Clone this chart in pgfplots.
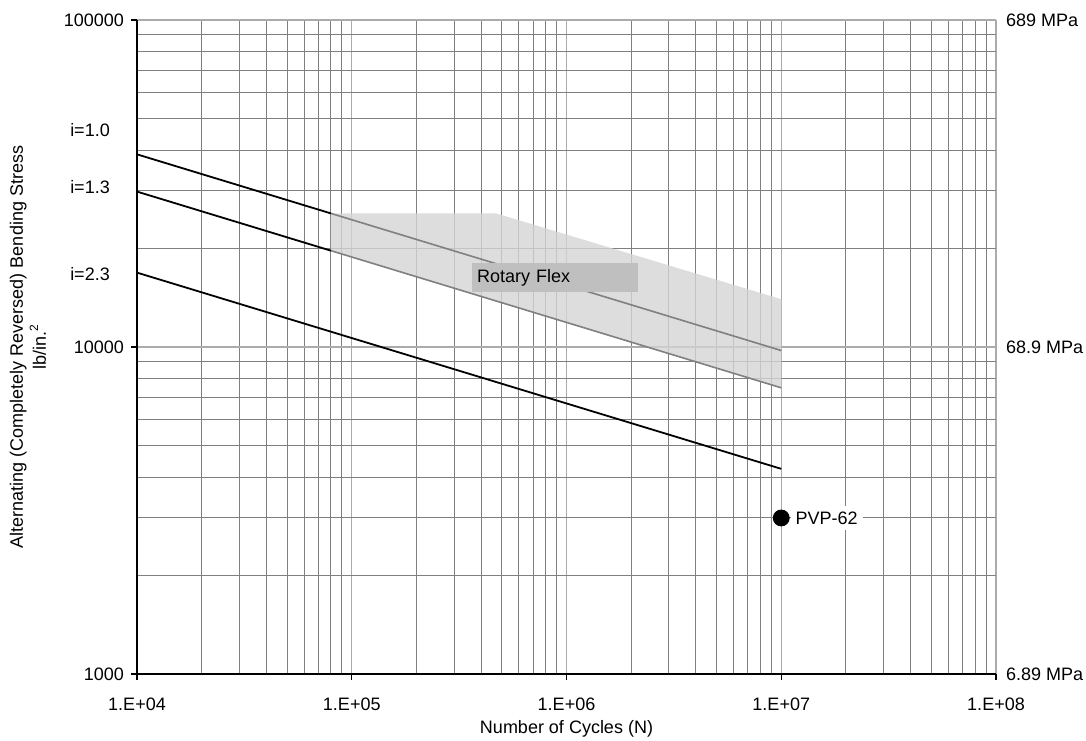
\documentclass[border=0pt]{standalone}
\usepackage{fontspec}
\setmainfont{Liberation Sans}
\usepackage{pgfplots}
\pgfplotsset{compat=1.18}
\begin{document}
\begin{tikzpicture}
\begin{axis}[
  scale only axis, width=429.5pt, height=327pt,
  xmode=log, ymode=log,
  xmin=1e4, xmax=1e8, ymin=1000, ymax=100000,
  xtick={1e4,1e5,1e6,1e7,1e8},
  xticklabels={1.E+04,1.E+05,1.E+06,1.E+07,1.E+08},
  ytick={1000,10000,100000},
  yticklabels={1000,10000,100000},
  minor xtick={2e4,3e4,4e4,5e4,6e4,7e4,8e4,9e4,2e5,3e5,4e5,5e5,6e5,7e5,8e5,9e5,2e6,3e6,4e6,5e6,6e6,7e6,8e6,9e6,2e7,3e7,4e7,5e7,6e7,7e7,8e7,9e7},
  minor ytick={2000,3000,4000,5000,6000,7000,8000,9000,20000,30000,40000,50000,60000,70000,80000,90000},
  grid=both,
  major grid style={color=black!33, line width=0.6pt},
  minor grid style={color=black!50, line width=0.5pt},
  axis x line*=bottom, axis y line*=left,
  axis line style={black, line width=0.9pt, -},
  tick align=outside, major tick length=3pt, minor tick length=0pt,
  tick style={black, line width=0.6pt},
  /pgf/number format/assume math mode=true,
  tick label style={font=\fontsize{9}{10}\selectfont},
  xticklabel style={yshift=-5.5pt},
  xlabel={Number of Cycles (N)},
  xlabel style={font=\fontsize{9}{10}\selectfont, at={(rel axis cs:0.5,0)}, anchor=center, yshift=-27.5pt},
  ylabel={Alternating (Completely Reversed) Bending Stress\\lb/in.\textsuperscript{2}},
  ylabel style={font=\fontsize{9}{11.5}\selectfont, align=center, at={(rel axis cs:-0.127,0.5)}, anchor=center},
  clip=false,
]
% shaded Rotary Flex band
\addplot[draw=none, fill=black!17, fill opacity=0.8] coordinates {
  (8e4,25614) (4.7e5,25614) (1e7,14000) (1e7,7503) (8e4,19703)} -- cycle;
% design lines (black part)
\addplot[black, line width=0.9pt] coordinates {(1e4,38830) (8e4,25614)};
\addplot[black, line width=0.9pt] coordinates {(1e4,29870) (8e4,19703)};
\addplot[black, line width=0.9pt] coordinates {(1e4,16883) (1e7,4240)};
% lines inside band (gray)
\addplot[black!50, line width=0.8pt] coordinates {(8e4,25614) (1e7,9754)};
\addplot[black!50, line width=0.8pt] coordinates {(8e4,19703) (1e7,7503)};
% PVP-62 point
\addplot[only marks, mark=*, mark size=4pt, black] coordinates {(1e7,3000)};
\node[anchor=west, fill=white, inner xsep=2.5pt, inner ysep=3pt, font=\fontsize{9}{10}\selectfont] at (axis cs:1e7,3000) [xshift=4.5pt] {PVP-62};
\node[anchor=west, fill=black!25, text width=78pt, inner xsep=2.5pt, inner ysep=0pt, minimum height=14.2pt, align=left, font=\fontsize{9}{10}\selectfont] at (axis cs:3.62e5,16315) {Rotary Flex};
% i labels
\node[font=\fontsize{9}{10}\selectfont] at (rel axis cs:-0.0547,0.832) {i=1.0};
\node[font=\fontsize{9}{10}\selectfont] at (rel axis cs:-0.0547,0.745) {i=1.3};
\node[font=\fontsize{9}{10}\selectfont] at (rel axis cs:-0.0547,0.612) {i=2.3};
% MPa labels
\node[anchor=west, font=\fontsize{9}{10}\selectfont] at (rel axis cs:1,1) [xshift=1.5pt] {689 MPa};
\node[anchor=west, font=\fontsize{9}{10}\selectfont] at (rel axis cs:1,0.5) [xshift=1.5pt] {68.9 MPa};
\node[anchor=west, font=\fontsize{9}{10}\selectfont] at (rel axis cs:1,0) [xshift=1.5pt] {6.89 MPa};
\end{axis}
\pgfresetboundingbox
\path[use as bounding box] ([shift={(-68.5pt,-33pt)}]current axis.south west) rectangle ([shift={(45pt,10pt)}]current axis.north east);
\end{tikzpicture}
\end{document}
